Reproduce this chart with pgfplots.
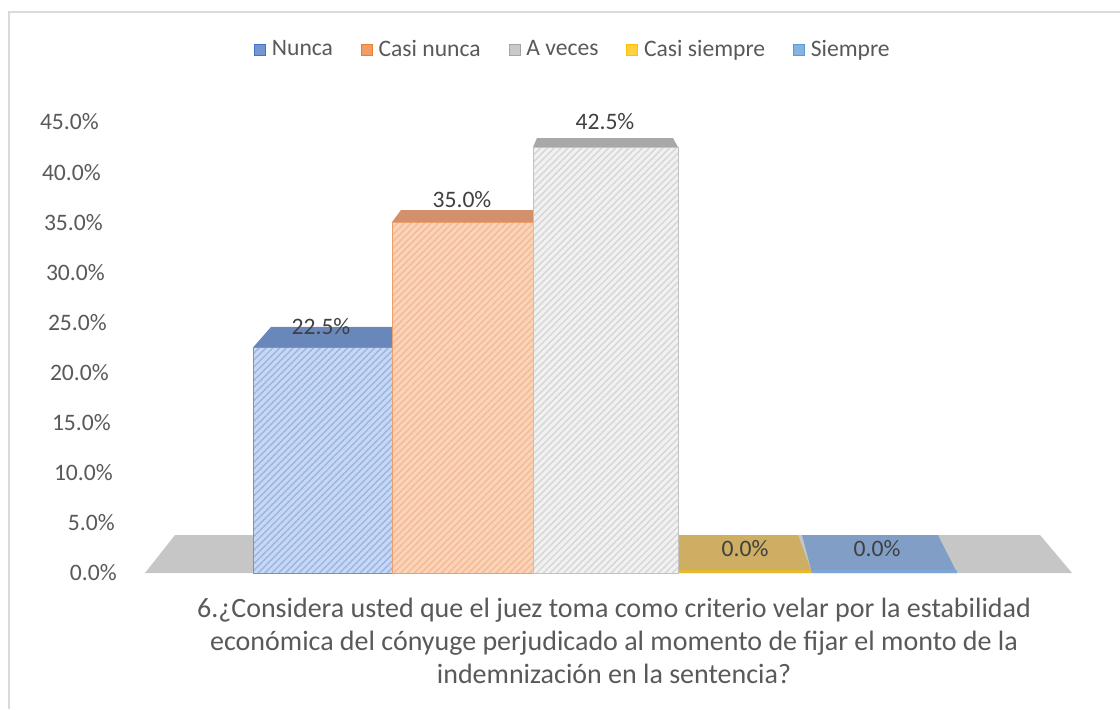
\documentclass[border=0pt]{standalone}
\usepackage{fontspec}
\setmainfont{Carlito}
\usepackage{pgfplots}
\pgfplotsset{compat=1.18}
\usetikzlibrary{patterns.meta}
\definecolor{txt}{HTML}{595959}
\definecolor{lbl}{HTML}{404040}
\definecolor{frame}{HTML}{D9D9D9}
\definecolor{floorc}{HTML}{C6C6C6}
\definecolor{nfront}{HTML}{C7D8F5}
\definecolor{nline}{HTML}{9AB5E4}
\definecolor{nedge}{HTML}{7393D0}
\definecolor{ntop}{HTML}{6A87BC}
\definecolor{cfront}{HTML}{FBD3B8}
\definecolor{cline}{HTML}{F4BA94}
\definecolor{cedge}{HTML}{EE9E6A}
\definecolor{ctop}{HTML}{D2916A}
\definecolor{afront}{HTML}{F1F1F1}
\definecolor{aline}{HTML}{D6D6D6}
\definecolor{aedge}{HTML}{C2C2C2}
\definecolor{atop}{HTML}{A8A8A8}
\definecolor{ytop}{HTML}{CDAE62}
\definecolor{yedge}{HTML}{E8B92D}
\definecolor{stop}{HTML}{819FC6}
\definecolor{sedge}{HTML}{7EA6D4}
\definecolor{lnunca}{HTML}{4472C4}
\definecolor{lcasin}{HTML}{ED7D31}
\definecolor{laveces}{HTML}{A5A5A5}
\definecolor{lcasis}{HTML}{FFC000}
\definecolor{lsiempre}{HTML}{5B9BD5}
\begin{document}
\fontsize{11.8}{14}\selectfont
\begin{tikzpicture}
\useasboundingbox (0pt,0pt) rectangle (560pt,354.5pt);
\draw[color=frame, line width=1pt] (4.5pt,0pt) -- (4.5pt,348.5pt) -- (560pt,348.5pt);
\begin{axis}[
  at={(72.5pt,68pt)}, anchor=south west, scale only axis,
  width=463.5pt, height=225.5pt,
  xmin=145, xmax=1072, ymin=0, ymax=45,
  hide x axis, axis y line*=left, y axis line style={draw=none},
  ytick={0,5,...,45},
  yticklabels={0.0\%,5.0\%,10.0\%,15.0\%,20.0\%,25.0\%,30.0\%,35.0\%,40.0\%,45.0\%},
  major tick length=0pt,
  yticklabel style={text=txt, anchor=east, xshift=-10pt-\ticknum*1pt},
  clip=false,
  legend columns=5,
  legend style={at={(0.4628,1.1598)}, anchor=center, draw=none, fill=none,
    text=txt, /tikz/every even column/.append style={column sep=12pt},
    /tikz/every odd column/.append style={column sep=1pt}},
  legend image code/.code={\draw[#1] (0pt,-2.7pt) rectangle (5.4pt,2.7pt);},
]
% floor
\addplot[forget plot, fill=floorc, draw=none] coordinates {(145,0) (1072,0) (1040,3.79) (175,3.79)} -- cycle;
% Casi siempre (0.0%) flat top
\addplot[forget plot, fill=ytop, draw=none] coordinates {(678,0) (812,0) (798,3.79) (676,3.79)} -- cycle;
\addplot[forget plot, draw=yedge, line width=1.6pt] coordinates {(678,0.15) (812,0.15)};
% Siempre (0.0%) flat top
\addplot[forget plot, fill=stop, draw=none] coordinates {(812,0) (957,0) (938,3.79) (802,3.79)} -- cycle;
\addplot[forget plot, draw=sedge, line width=1.6pt] coordinates {(812,0.15) (957,0.15)};
% Nunca 22.5
\addplot[forget plot, fill=ntop, draw=none] coordinates {(253,22.5) (392,22.5) (411,24.55) (271,24.55)} -- cycle;
\addplot[forget plot, fill=nfront, draw=nedge, line width=0.5pt,
  postaction={pattern={Lines[angle=45,distance=2.4pt,line width=0.7pt]}, pattern color=nline}]
  coordinates {(253,0) (392,0) (392,22.5) (253,22.5)} -- cycle;
% Casi nunca 35.0
\addplot[forget plot, fill=ctop, draw=none] coordinates {(392,35) (533,35) (543,36.22) (401,36.22)} -- cycle;
\addplot[forget plot, fill=cfront, draw=cedge, line width=0.5pt,
  postaction={pattern={Lines[angle=45,distance=2.4pt,line width=0.7pt]}, pattern color=cline}]
  coordinates {(392,0) (533,0) (533,35) (392,35)} -- cycle;
% A veces 42.5
\addplot[forget plot, fill=atop, draw=none] coordinates {(533,42.5) (678,42.5) (673,43.4) (537,43.4)} -- cycle;
\addplot[forget plot, fill=afront, draw=aedge, line width=0.5pt,
  postaction={pattern={Lines[angle=45,distance=2.4pt,line width=0.7pt]}, pattern color=aline}]
  coordinates {(533,0) (678,0) (678,42.5) (533,42.5)} -- cycle;
% data labels
\addplot[forget plot, draw=none, mark=none, nodes near coords, point meta=explicit symbolic,
  nodes near coords style={text=lbl, anchor=center}]
  coordinates {(321,24.55) [22.5\%] (462,37.3) [35.0\%] (605,45.0) [42.5\%] (745,2.49) [0.0\%] (877,2.49) [0.0\%]};
% legend
\addlegendimage{fill=lnunca!75, draw=lnunca}
\addlegendentry{Nunca}
\addlegendimage{fill=lcasin!75, draw=lcasin}
\addlegendentry{Casi nunca}
\addlegendimage{fill=laveces!60, draw=laveces}
\addlegendentry{A veces}
\addlegendimage{fill=lcasis!75, draw=lcasis}
\addlegendentry{Casi siempre}
\addlegendimage{fill=lsiempre!75, draw=lsiempre}
\addlegendentry{Siempre}
% category title
\node[text=txt, align=center, font=\fontsize{14}{16.5}\selectfont] at (axis cs:614,-6.785)
  {6.¿Considera usted que el juez toma como criterio velar por la estabilidad\\
   económica del cónyuge perjudicado al momento de fijar el monto de la\\
   indemnización en la sentencia?};
\end{axis}
\end{tikzpicture}
\end{document}
